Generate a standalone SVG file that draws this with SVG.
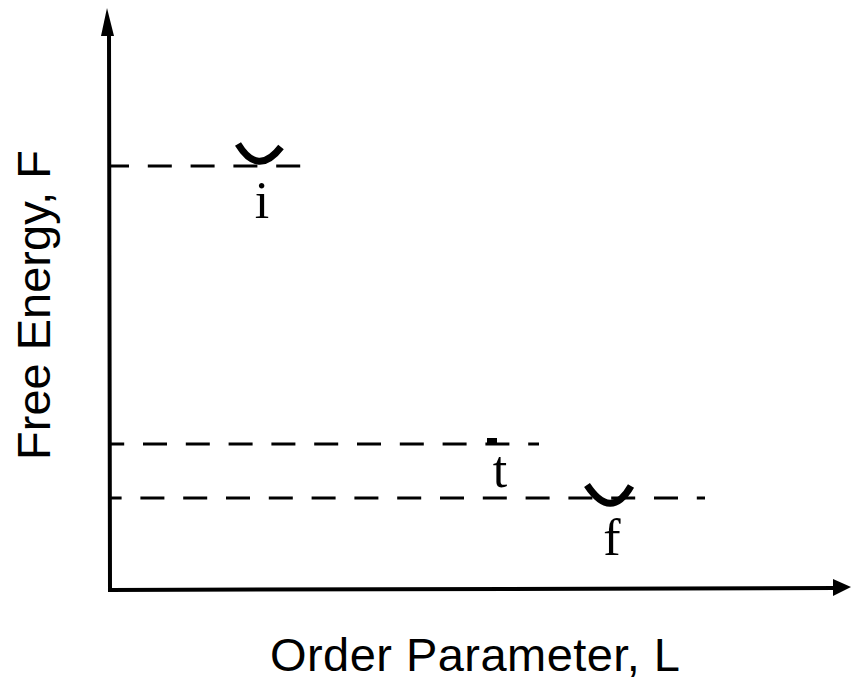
<svg xmlns="http://www.w3.org/2000/svg" width="853" height="684" viewBox="0 0 853 684">
<style>
.axis{stroke:#000;stroke-width:4;fill:none}
.dash{stroke:#000;stroke-width:3;fill:none;stroke-dasharray:24 18.8}
.well{stroke:#000;stroke-width:7;fill:none}
.lbl{font-family:"Liberation Serif","Times New Roman",serif;font-size:52px;fill:#000;text-anchor:middle}
.ax{font-family:"Liberation Sans",Arial,sans-serif;font-size:47px;fill:#000}
</style>
<rect width="853" height="684" fill="#fff"/>
<g id="connectors">
<path class="axis" d="M109,33 L110,590 L836,588"/>
<polygon points="107,8 101,36 114,36" fill="#000"/>
<polygon points="851,587 833,579 833,596" fill="#000"/>
<path class="dash" d="M108,166 L302,166" stroke-dashoffset="3"/>
<path class="dash" d="M108,444 L539,444" stroke-dashoffset="7.8"/>
<path class="dash" d="M108,498 L705,498" stroke-dashoffset="10.4"/>
</g>
<g id="node-i">
<path class="well" d="M238,144 Q258,177 281,147"/>
<text class="lbl" x="262" y="218">i</text>
</g>
<g id="node-t">
<rect x="487" y="438" width="10" height="5" fill="#000"/>
<text class="lbl" x="500" y="487">t</text>
</g>
<g id="node-f">
<path class="well" d="M587,485 Q611,521 631,486"/>
<text class="lbl" x="612" y="555">f</text>
</g>
<g id="axis-labels">
<text class="ax" x="270" y="671" textLength="410">Order Parameter, L</text>
<text class="ax" transform="translate(50,305) rotate(-90)" text-anchor="middle">Free Energy, F</text>
</g>
</svg>
